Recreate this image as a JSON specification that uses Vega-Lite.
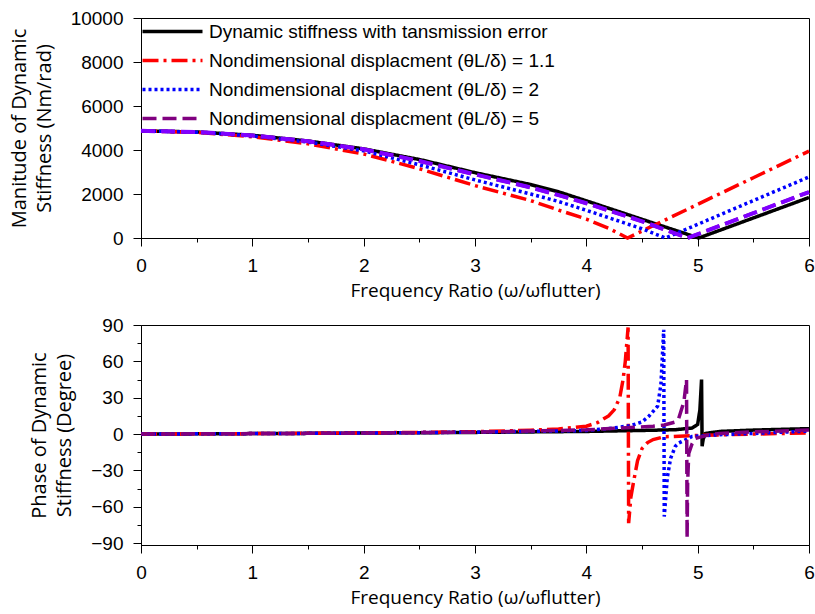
{
  "$schema": "https://vega.github.io/schema/vega-lite/v6.json",
  "padding": {"left": 8, "top": 8, "right": 4, "bottom": 2},
  "background": "white",
  "spacing": 14,
  "config": {
    "view": {"stroke": "black", "strokeWidth": 1},
    "axis": {
      "domainColor": "black", "tickColor": "black", "labelColor": "black", "titleColor": "black",
      "labelFont": "Liberation Sans", "labelFontSize": 19, "titleFont": "Open Sans", "titleFontWeight": "normal",
      "grid": false, "labelPadding": 10, "domainWidth": 1, "tickWidth": 1
    }
  },
  "datasets": {
    "mag": [
      {"series": "Dynamic stiffness with tansmission error", "x": 0, "y": 4870},
      {"series": "Dynamic stiffness with tansmission error", "x": 0.5, "y": 4820},
      {"series": "Dynamic stiffness with tansmission error", "x": 1, "y": 4670},
      {"series": "Dynamic stiffness with tansmission error", "x": 1.5, "y": 4410},
      {"series": "Dynamic stiffness with tansmission error", "x": 2, "y": 4050},
      {"series": "Dynamic stiffness with tansmission error", "x": 2.5, "y": 3570},
      {"series": "Dynamic stiffness with tansmission error", "x": 3, "y": 2970},
      {"series": "Dynamic stiffness with tansmission error", "x": 3.5, "y": 2430},
      {"series": "Dynamic stiffness with tansmission error", "x": 3.75, "y": 2100},
      {"series": "Dynamic stiffness with tansmission error", "x": 4, "y": 1690},
      {"series": "Dynamic stiffness with tansmission error", "x": 4.25, "y": 1270},
      {"series": "Dynamic stiffness with tansmission error", "x": 4.5, "y": 850},
      {"series": "Dynamic stiffness with tansmission error", "x": 4.75, "y": 430},
      {"series": "Dynamic stiffness with tansmission error", "x": 5.01, "y": 0},
      {"series": "Dynamic stiffness with tansmission error", "x": 5.5, "y": 910},
      {"series": "Dynamic stiffness with tansmission error", "x": 6, "y": 1840},
      {"series": "Nondimensional displacment (θL/δ) = 1.1", "x": 0, "y": 4870},
      {"series": "Nondimensional displacment (θL/δ) = 1.1", "x": 0.5, "y": 4800},
      {"series": "Nondimensional displacment (θL/δ) = 1.1", "x": 1, "y": 4600},
      {"series": "Nondimensional displacment (θL/δ) = 1.1", "x": 1.5, "y": 4280},
      {"series": "Nondimensional displacment (θL/δ) = 1.1", "x": 2, "y": 3820},
      {"series": "Nondimensional displacment (θL/δ) = 1.1", "x": 2.5, "y": 3150},
      {"series": "Nondimensional displacment (θL/δ) = 1.1", "x": 3, "y": 2380},
      {"series": "Nondimensional displacment (θL/δ) = 1.1", "x": 3.5, "y": 1700},
      {"series": "Nondimensional displacment (θL/δ) = 1.1", "x": 3.75, "y": 1270},
      {"series": "Nondimensional displacment (θL/δ) = 1.1", "x": 4, "y": 860},
      {"series": "Nondimensional displacment (θL/δ) = 1.1", "x": 4.2, "y": 440},
      {"series": "Nondimensional displacment (θL/δ) = 1.1", "x": 4.37, "y": 0},
      {"series": "Nondimensional displacment (θL/δ) = 1.1", "x": 5, "y": 1530},
      {"series": "Nondimensional displacment (θL/δ) = 1.1", "x": 5.5, "y": 2740},
      {"series": "Nondimensional displacment (θL/δ) = 1.1", "x": 6, "y": 3950},
      {"series": "Nondimensional displacment (θL/δ) = 2", "x": 0, "y": 4870},
      {"series": "Nondimensional displacment (θL/δ) = 2", "x": 0.5, "y": 4810},
      {"series": "Nondimensional displacment (θL/δ) = 2", "x": 1, "y": 4640},
      {"series": "Nondimensional displacment (θL/δ) = 2", "x": 1.5, "y": 4360},
      {"series": "Nondimensional displacment (θL/δ) = 2", "x": 2, "y": 3960},
      {"series": "Nondimensional displacment (θL/δ) = 2", "x": 2.5, "y": 3330},
      {"series": "Nondimensional displacment (θL/δ) = 2", "x": 3, "y": 2640},
      {"series": "Nondimensional displacment (θL/δ) = 2", "x": 3.5, "y": 2000},
      {"series": "Nondimensional displacment (θL/δ) = 2", "x": 3.75, "y": 1660},
      {"series": "Nondimensional displacment (θL/δ) = 2", "x": 4, "y": 1260},
      {"series": "Nondimensional displacment (θL/δ) = 2", "x": 4.25, "y": 840},
      {"series": "Nondimensional displacment (θL/δ) = 2", "x": 4.5, "y": 420},
      {"series": "Nondimensional displacment (θL/δ) = 2", "x": 4.71, "y": 0},
      {"series": "Nondimensional displacment (θL/δ) = 2", "x": 5, "y": 620},
      {"series": "Nondimensional displacment (θL/δ) = 2", "x": 5.5, "y": 1700},
      {"series": "Nondimensional displacment (θL/δ) = 2", "x": 6, "y": 2776},
      {"series": "Nondimensional displacment (θL/δ) = 5", "x": 0, "y": 4870},
      {"series": "Nondimensional displacment (θL/δ) = 5", "x": 0.5, "y": 4820},
      {"series": "Nondimensional displacment (θL/δ) = 5", "x": 1, "y": 4660},
      {"series": "Nondimensional displacment (θL/δ) = 5", "x": 1.5, "y": 4400},
      {"series": "Nondimensional displacment (θL/δ) = 5", "x": 2, "y": 4030},
      {"series": "Nondimensional displacment (θL/δ) = 5", "x": 2.5, "y": 3500},
      {"series": "Nondimensional displacment (θL/δ) = 5", "x": 3, "y": 2890},
      {"series": "Nondimensional displacment (θL/δ) = 5", "x": 3.5, "y": 2300},
      {"series": "Nondimensional displacment (θL/δ) = 5", "x": 3.75, "y": 1950},
      {"series": "Nondimensional displacment (θL/δ) = 5", "x": 4, "y": 1580},
      {"series": "Nondimensional displacment (θL/δ) = 5", "x": 4.5, "y": 760},
      {"series": "Nondimensional displacment (θL/δ) = 5", "x": 4.91, "y": 0},
      {"series": "Nondimensional displacment (θL/δ) = 5", "x": 5.5, "y": 1130},
      {"series": "Nondimensional displacment (θL/δ) = 5", "x": 6, "y": 2090}
    ],
    "phase": [
      {"series": "k", "x": 0, "y": 0}, {"series": "k", "x": 0.5, "y": 0.2}, {"series": "k", "x": 1, "y": 0.4},
      {"series": "k", "x": 1.5, "y": 0.6}, {"series": "k", "x": 2, "y": 0.9}, {"series": "k", "x": 2.5, "y": 1.1},
      {"series": "k", "x": 3, "y": 1.4}, {"series": "k", "x": 3.5, "y": 1.8}, {"series": "k", "x": 4, "y": 2.2},
      {"series": "k", "x": 4.5, "y": 3}, {"series": "k", "x": 4.8, "y": 3.6}, {"series": "k", "x": 4.95, "y": 5},
      {"series": "k", "x": 5.0, "y": 8}, {"series": "k", "x": 5.02, "y": 20}, {"series": "k", "x": 5.035, "y": 45},
      {"series": "k", "x": 5.04, "y": -10}, {"series": "k", "x": 5.05, "y": -4}, {"series": "k", "x": 5.07, "y": 0.5},
      {"series": "k", "x": 5.1, "y": 1}, {"series": "k", "x": 5.2, "y": 2.2}, {"series": "k", "x": 5.5, "y": 3.3},
      {"series": "k", "x": 6, "y": 4.5},
      {"series": "r", "x": 0, "y": 0}, {"series": "r", "x": 0.5, "y": 0.2}, {"series": "r", "x": 1, "y": 0.4},
      {"series": "r", "x": 1.5, "y": 0.7}, {"series": "r", "x": 2, "y": 1}, {"series": "r", "x": 2.5, "y": 1.4},
      {"series": "r", "x": 3, "y": 2}, {"series": "r", "x": 3.5, "y": 3.2}, {"series": "r", "x": 3.75, "y": 4.2},
      {"series": "r", "x": 4, "y": 6.5}, {"series": "r", "x": 4.1, "y": 9.5}, {"series": "r", "x": 4.2, "y": 15},
      {"series": "r", "x": 4.25, "y": 20}, {"series": "r", "x": 4.3, "y": 30}, {"series": "r", "x": 4.33, "y": 45},
      {"series": "r", "x": 4.35, "y": 60}, {"series": "r", "x": 4.375, "y": 88}, {"series": "r", "x": 4.38, "y": -73.5},
      {"series": "r", "x": 4.4, "y": -52}, {"series": "r", "x": 4.425, "y": -39}, {"series": "r", "x": 4.46, "y": -22},
      {"series": "r", "x": 4.5, "y": -12}, {"series": "r", "x": 4.55, "y": -7}, {"series": "r", "x": 4.6, "y": -4.5},
      {"series": "r", "x": 4.7, "y": -2.2}, {"series": "r", "x": 5, "y": -1.1}, {"series": "r", "x": 5.5, "y": 0},
      {"series": "r", "x": 6, "y": 1},
      {"series": "b", "x": 0, "y": 0}, {"series": "b", "x": 0.5, "y": 0.2}, {"series": "b", "x": 1, "y": 0.4},
      {"series": "b", "x": 1.5, "y": 0.6}, {"series": "b", "x": 2, "y": 0.9}, {"series": "b", "x": 2.5, "y": 1.2},
      {"series": "b", "x": 3, "y": 1.6}, {"series": "b", "x": 3.5, "y": 2.2}, {"series": "b", "x": 4, "y": 3},
      {"series": "b", "x": 4.2, "y": 4.5}, {"series": "b", "x": 4.4, "y": 7}, {"series": "b", "x": 4.5, "y": 10},
      {"series": "b", "x": 4.56, "y": 14.6}, {"series": "b", "x": 4.64, "y": 23}, {"series": "b", "x": 4.67, "y": 41},
      {"series": "b", "x": 4.685, "y": 68}, {"series": "b", "x": 4.695, "y": 86}, {"series": "b", "x": 4.7, "y": -68},
      {"series": "b", "x": 4.727, "y": -36}, {"series": "b", "x": 4.757, "y": -20}, {"series": "b", "x": 4.8, "y": -10},
      {"series": "b", "x": 4.83, "y": -7.4}, {"series": "b", "x": 4.95, "y": -2}, {"series": "b", "x": 5.2, "y": -0.5},
      {"series": "b", "x": 5.5, "y": 0.5}, {"series": "b", "x": 6, "y": 2.5},
      {"series": "p", "x": 0, "y": 0}, {"series": "p", "x": 0.5, "y": 0.2}, {"series": "p", "x": 1, "y": 0.4},
      {"series": "p", "x": 1.5, "y": 0.6}, {"series": "p", "x": 2, "y": 0.9}, {"series": "p", "x": 2.5, "y": 1.2},
      {"series": "p", "x": 3, "y": 1.6}, {"series": "p", "x": 3.5, "y": 2.5}, {"series": "p", "x": 4, "y": 3.5},
      {"series": "p", "x": 4.4, "y": 5.5}, {"series": "p", "x": 4.6, "y": 6.5}, {"series": "p", "x": 4.7, "y": 7.5},
      {"series": "p", "x": 4.8, "y": 10}, {"series": "p", "x": 4.83, "y": 13}, {"series": "p", "x": 4.877, "y": 27},
      {"series": "p", "x": 4.9, "y": 45}, {"series": "p", "x": 4.905, "y": -86}, {"series": "p", "x": 4.91, "y": -40},
      {"series": "p", "x": 4.92, "y": -16}, {"series": "p", "x": 4.95, "y": -8}, {"series": "p", "x": 4.98, "y": -3.6},
      {"series": "p", "x": 5.1, "y": -0.5}, {"series": "p", "x": 5.2, "y": 0.5}, {"series": "p", "x": 5.5, "y": 1.8},
      {"series": "p", "x": 6, "y": 3.3}
    ]
  },
  "vconcat": [
    {
      "width": 668,
      "height": 220,
      "data": {"name": "mag"},
      "layer": [
        {
          "mark": {"type": "line", "strokeCap": "butt"},
          "encoding": {
            "x": {
              "field": "x", "type": "quantitative",
              "scale": {"domain": [0, 6], "nice": false, "zero": false},
              "axis": {
                "title": "Frequency Ratio (ω/ωflutter)", "titleFontSize": 19, "titlePadding": 6,
                "values": [0, 0.5, 1, 1.5, 2, 2.5, 3, 3.5, 4, 4.5, 5, 5.5, 6],
                "labelExpr": "datum.value % 1 === 0 ? format(datum.value, 'd') : ''",
                "tickSize": {"condition": {"test": "datum.value % 1 !== 0", "value": 4}, "value": 8},
                "labelFlush": false, "labelOverlap": false
              }
            },
            "y": {
              "field": "y", "type": "quantitative",
              "scale": {"domain": [0, 10000], "nice": false},
              "axis": {
                "title": ["Manitude of Dynamic", "Stiffness (Nm/rad)"], "titleFontSize": 20, "titleLineHeight": 25,
                "values": [0, 1000, 2000, 3000, 4000, 5000, 6000, 7000, 8000, 9000, 10000],
                "labelExpr": "datum.value % 2000 === 0 ? format(datum.value, 'd') : ''",
                "tickSize": {"condition": {"test": "datum.value % 2000 !== 0", "value": 4}, "value": 8},
                "labelOverlap": false, "titlePadding": 16
              }
            },
            "color": {
              "field": "series", "type": "nominal",
              "scale": {
                "domain": ["Dynamic stiffness with tansmission error", "Nondimensional displacment (θL/δ) = 1.1", "Nondimensional displacment (θL/δ) = 2", "Nondimensional displacment (θL/δ) = 5"],
                "range": ["#000000", "#ff0000", "#0000ff", "#800080"]
              },
              "legend": {
                "title": null, "orient": "none", "legendX": 22, "legendY": 4,
                "symbolType": "M-5,0H5", "symbolSize": 144, "symbolStrokeWidth": 3.5,
                "labelFont": "Liberation Sans", "labelFontSize": 19, "labelColor": "black",
                "labelOffset": 27, "rowPadding": 9, "padding": 0, "labelLimit": 500
              }
            },
            "strokeDash": {
              "field": "series", "type": "nominal",
              "scale": {
                "domain": ["Dynamic stiffness with tansmission error", "Nondimensional displacment (θL/δ) = 1.1", "Nondimensional displacment (θL/δ) = 2", "Nondimensional displacment (θL/δ) = 5"],
                "range": [[1, 0], [16, 5, 3, 5], [3, 3], [14, 6]]
              },
              "legend": {
                "title": null, "orient": "none", "legendX": 22, "legendY": 4,
                "symbolType": "M-5,0H5", "symbolSize": 144, "symbolStrokeWidth": 3.5,
                "labelFont": "Liberation Sans", "labelFontSize": 19, "labelColor": "black",
                "labelOffset": 27, "rowPadding": 9, "padding": 0, "labelLimit": 500
              }
            },
            "strokeWidth": {
              "field": "series", "type": "nominal",
              "scale": {
                "domain": ["Dynamic stiffness with tansmission error", "Nondimensional displacment (θL/δ) = 1.1", "Nondimensional displacment (θL/δ) = 2", "Nondimensional displacment (θL/δ) = 5"],
                "range": [3.5, 3.5, 3, 4]
              },
              "legend": null
            }
          }
        },
        {
          "transform": [{"filter": "datum.series === 'Nondimensional displacment (θL/δ) = 5'"}],
          "mark": {"type": "line", "color": "#8000ff", "strokeDash": [14, 6], "strokeWidth": 4},
          "encoding": {
            "x": {"field": "x", "type": "quantitative"},
            "y": {"field": "y", "type": "quantitative"}
          }
        }
      ]
    },
    {
      "width": 668,
      "height": 220,
      "data": {"name": "phase"},
      "mark": {"type": "line", "strokeCap": "butt"},
      "encoding": {
        "x": {
          "field": "x", "type": "quantitative",
          "scale": {"domain": [0, 6], "nice": false, "zero": false},
          "axis": {
            "title": "Frequency Ratio (ω/ωflutter)", "titleFontSize": 19, "titlePadding": 6,
            "values": [0, 0.5, 1, 1.5, 2, 2.5, 3, 3.5, 4, 4.5, 5, 5.5, 6],
            "labelExpr": "datum.value % 1 === 0 ? format(datum.value, 'd') : ''",
            "tickSize": {"condition": {"test": "datum.value % 1 !== 0", "value": 4}, "value": 8},
            "labelFlush": false, "labelOverlap": false
          }
        },
        "y": {
          "field": "y", "type": "quantitative",
          "scale": {"domain": [-91.5, 90], "nice": false, "zero": false},
          "axis": {
            "title": ["Phase of Dynamic", "Stiffness (Degree)"], "titleFontSize": 20, "titleLineHeight": 25,
            "values": [-90, -75, -60, -45, -30, -15, 0, 15, 30, 45, 60, 75, 90],
            "labelExpr": "datum.value % 30 === 0 ? format(datum.value, 'd') : ''",
            "tickSize": {"condition": {"test": "datum.value % 30 !== 0", "value": 4}, "value": 8},
            "labelOverlap": false, "titlePadding": 16
          }
        },
        "color": {
          "field": "series", "type": "nominal",
          "scale": {"domain": ["k", "r", "b", "p"], "range": ["#000000", "#ff0000", "#0000ff", "#800080"]},
          "legend": null
        },
        "strokeDash": {
          "field": "series", "type": "nominal",
          "scale": {"domain": ["k", "r", "b", "p"], "range": [[1, 0], [16, 5, 3, 5], [3, 3], [14, 6]]},
          "legend": null
        },
        "strokeWidth": {
          "field": "series", "type": "nominal",
          "scale": {"domain": ["k", "r", "b", "p"], "range": [3.5, 3.5, 3, 4]},
          "legend": null
        }
      }
    }
  ],
  "resolve": {"scale": {"color": "independent", "strokeDash": "independent", "strokeWidth": "independent"}}
}
